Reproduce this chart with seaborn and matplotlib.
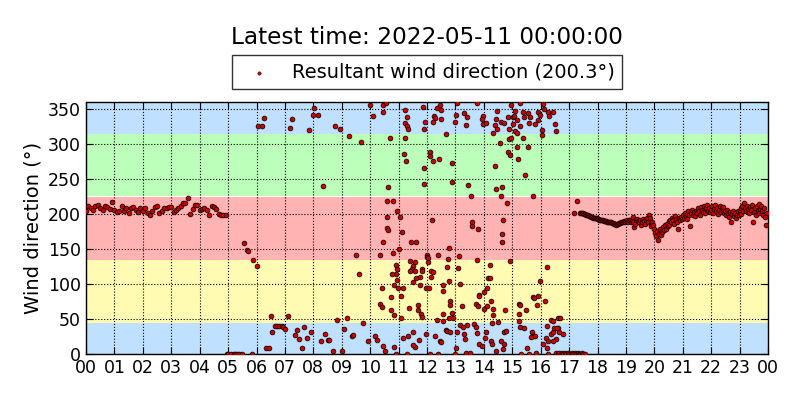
import pandas as pd
import matplotlib.pyplot as plt
import seaborn as sns

# Morning: readings every 5 minutes from 00:00 to 04:55
morning_dir = [
    205, 212, 208, 206, 211, 213, 209, 206, 212, 210, 207, 217,
    206, 203, 205, 212, 204, 209, 201, 208, 210, 206, 203, 209,
    205, 208, 202, 199, 204, 210, 211, 202, 205, 208, 209, 210,
    210, 203, 206, 209, 212, 216, 215, 223, 200, 207, 213, 213,
    206, 207, 209, 206, 198, 212, 210, 207, 200, 199, 199, 199,
]

# Daytime: scattered readings (hour of day, direction)
day_hours = [
    4.95, 5.0, 5.1, 5.2, 5.25, 5.3, 5.4, 5.5, 5.83,
    5.57, 5.66, 5.7, 5.89, 6.0,
    6.05, 6.18, 6.25, 7.18, 7.24, 7.85, 8.0, 8.03, 8.15, 8.33, 8.76, 8.94,
    9.25, 9.68, 10.0, 10.09, 10.44, 10.46, 10.56,
    6.34, 6.43, 6.51, 6.56, 6.65, 6.72, 6.8, 6.88, 6.93, 7.0, 7.1, 7.35,
    7.42, 7.5, 7.59, 7.66, 7.77, 7.92, 8.27, 8.4, 8.5, 8.55, 8.68, 8.82,
    9.0, 9.08, 9.18, 9.36, 9.4, 9.6, 9.49, 9.75, 9.91, 10.17, 10.25,
    10.34, 10.44, 10.36, 10.4, 10.42, 10.46, 10.52,
    11.23, 11.28, 11.22, 11.31, 11.34, 11.85, 11.93, 11.9, 12.24, 12.28,
    12.22, 12.34, 12.45, 12.49, 12.48, 12.67, 12.98, 13.02, 13.07, 13.3,
    13.42, 13.39, 13.75,
    10.7, 11.22, 11.19, 11.26, 10.64, 11.89, 11.89, 12.1, 12.1, 12.22,
    12.41, 12.87, 12.89, 13.43, 13.55,
    10.58, 10.79, 10.93, 11.05, 10.58, 10.58, 10.63, 11.12, 11.42, 11.6,
    11.03, 10.79, 12.16, 12.01, 12.01, 12.4, 12.76, 13.11, 13.57, 13.57, 13.78,
    10.91, 10.93, 10.9, 10.76, 10.93, 11.4, 11.58, 11.52, 11.46, 11.4,
    11.58, 11.81, 11.81, 11.75, 11.61, 11.52, 12.05, 12.05, 12.14, 12.2,
    12.13, 12.73, 12.69, 13.1, 12.77, 10.85, 10.99, 11.14, 11.07, 10.72,
    10.73, 10.84, 11.07, 11.37, 11.75, 11.96, 12.08, 11.69, 11.69, 11.78,
    11.81, 12.57, 12.57, 12.81, 12.81, 12.55, 12.34, 12.55, 12.76, 12.89,
    12.92, 13.16, 13.22, 13.72, 13.8, 13.82,
    11.14, 11.34, 11.52, 11.58, 11.52, 11.73, 11.28, 10.84, 11.96, 12.28,
    12.45, 12.48, 12.67, 12.71, 12.81, 13.07, 13.16, 13.25, 13.42, 13.3,
    13.34, 13.67, 13.72, 13.76, 13.02, 12.98, 13.39, 13.51, 12.4, 10.9, 12.1,
    13.96, 13.92, 13.98, 14.08, 14.47, 14.43, 14.39, 14.47, 14.33, 14.59,
    14.71, 14.86, 14.9, 14.94, 15.01, 15.06, 15.1, 15.01, 15.1, 15.15,
    15.15, 15.29, 15.37, 15.29, 15.41, 15.39, 15.56, 15.62, 15.6, 15.8,
    15.92, 15.97, 15.92, 16.03, 16.03, 16.09, 16.12, 16.27, 16.3, 16.42,
    16.5, 16.54,
    14.9, 14.94, 14.57, 15.15, 14.86, 14.92, 15.21, 15.56, 14.39, 15.45,
    14.43, 14.63, 14.59, 15.72,
    14.8, 14.66, 14.63, 14.63, 13.77, 14.92, 17.29, 17.17,
    14.22, 14.16, 14.22, 14.12, 14.0, 13.84, 14.0, 14.1, 14.24, 14.31,
    14.31, 14.27, 14.51, 14.74, 15.25, 15.27, 15.25, 15.48, 15.72, 15.76,
    15.92, 15.86, 16.15, 15.97, 16.23, 15.25, 16.35, 16.44, 16.62, 16.68,
    14.08, 14.04, 13.84, 13.92, 14.24, 14.27, 14.43, 14.59, 14.72, 14.71,
    14.78, 14.69, 15.27, 15.41, 15.68, 15.72, 15.8, 15.65, 15.53, 15.83,
    16.07, 16.21, 16.19, 16.27, 16.23, 16.35, 16.44, 16.47, 16.62, 16.66,
    16.54, 16.42, 16.77, 16.57,
    15.3, 15.6, 16.25, 16.55, 16.6, 16.65, 16.7, 16.75, 16.8, 16.85, 16.9,
    16.95, 17.0, 17.05, 17.1, 17.15, 17.2, 17.25, 17.3, 17.35, 17.4, 17.45,
    17.5, 17.55,
    17.4, 17.43, 17.47,
]
day_dir = [
    0, 0, 0.5, 0, 0, 0, 0, 0, 0,
    158, 148, 147, 135, 126,
    326, 326, 337, 323, 335, 320, 341, 351, 342, 240, 325, 321,
    312, 303, 356, 340, 346, 355, 359,
    8, 8, 55, 31, 40, 40, 40, 40, 38, 36, 55, 27,
    34, 21, 8, 38, 23, 32, 18, 29, 20, 20, 4, 48,
    4, 36, 52, 26, 27, 114, 142, 44, 18, 26, 20,
    142, 160, 71, 95, 67, 12, 4,
    349, 338, 330, 325, 321, 353, 332, 321, 340, 337,
    332, 351, 355, 336, 349, 314, 331, 341, 359, 344,
    339, 327, 359,
    309, 309, 285, 275, 238, 266, 243, 288, 283, 276,
    278, 273, 246, 242, 225,
    218, 218, 204, 196, 196, 180, 177, 175, 160, 160,
    150, 144, 191, 142, 138, 142, 151, 140, 189, 183, 179,
    127, 121, 114, 115, 106, 133, 132, 126, 122, 119,
    118, 122, 118, 110, 109, 103, 137, 132, 118, 117,
    110, 136, 125, 123, 104, 98, 94, 95, 83, 82,
    63, 56, 52, 66, 99, 94, 95, 70, 63, 57,
    53, 98, 90, 76, 70, 57, 48, 47, 52, 58,
    52, 100, 69, 71, 69, 84,
    23, 26, 31, 10, 13, 20, 0, 10, 29, 26,
    19, 17, 35, 33, 31, 31, 41, 38, 41, 29,
    22, 43, 38, 30, 8, 0, 1, 1, 0, 0, 0,
    340, 336, 328, 330, 347, 336, 327, 321, 315, 331,
    330, 338, 322, 356, 339, 340, 347, 328, 318, 315,
    334, 359, 346, 326, 338, 308, 344, 338, 330, 328,
    345, 342, 334, 320, 313, 357, 350, 345, 340, 346,
    328, 319,
    307, 309, 301, 296, 288, 284, 279, 295, 269, 255,
    236, 239, 225, 225,
    215, 191, 172, 160, 135, 133, 218, 201,
    127, 109, 109, 95, 89, 83, 65, 69, 76, 65,
    56, 44, 46, 63, 72, 70, 57, 63, 82, 80,
    83, 70, 76, 104, 125, 47, 49, 47, 52, 52,
    31, 23, 15, 12, 19, 14, 4, 19, 15, 32,
    33, 7, 39, 37, 31, 26, 26, 25, 9, 1,
    15, 40, 23, 18, 9, 28, 31, 37, 37, 32,
    22, 19, 29, 37,
    0, 0, 0, 1, 0, 1, 0, 2, 0, 1, 0,
    1, 0, 0, 1, 0, 2, 0, 1, 0, 0, 1,
    0, 0,
    202, 201, 201,
]

# Evening: readings every 2 minutes from 17:30 to 23:58
evening_dir = [
    201, 200, 200, 199, 198, 198, 197, 197, 196, 196, 195, 195, 195, 194, 194,
    193, 193, 192, 192, 191, 191, 191, 190, 190, 190, 189, 189, 189, 188, 188,
    187, 187, 186, 186, 186, 185, 186, 186, 187, 187, 188, 188, 189, 190, 189,
    190, 191, 189, 191, 192, 188, 190, 196, 189, 182, 186, 191, 193, 190, 188,
    191, 185, 188, 193, 190, 186, 192, 195, 189, 199, 194, 187, 183, 188, 184,
    178, 173, 168, 176, 163, 172, 179, 170, 175, 181, 177, 184, 178, 186, 183,
    190, 185, 192, 188, 195, 191, 186, 197, 193, 189, 178, 194, 191, 196, 193,
    199, 195, 202, 197, 193, 200, 204, 198, 183, 201, 206, 199, 203, 197, 205,
    202, 208, 204, 199, 210, 206, 203, 211, 207, 201, 209, 213, 205, 208, 203,
    206, 211, 202, 207, 213, 204, 209, 200, 206, 212, 203, 208, 205, 210, 201,
    204, 199, 206, 201, 196, 203, 189, 200, 205, 197, 202, 194, 199, 204, 198,
    203, 208, 200, 211, 205, 215, 209, 204, 212, 207, 202, 210, 206, 213, 189,
    203, 208, 198, 211, 205, 214, 201, 207, 212, 204, 199, 209, 196, 184, 201,
]

tick_labels = [f"{h:02d}" for h in range(24)] + ["00"]
bands = [(0, 45, "#bfe0ff"), (45, 135, "#fffbb3"), (135, 225, "#ffb3b3"),
         (225, 315, "#bbffbb"), (315, 360, "#bfe0ff")]

morning_hours = [i * 5 / 60 for i in range(len(morning_dir))]
evening_hours = [17.5 + i * 2 / 60 for i in range(len(evening_dir))]

df = pd.DataFrame({
    "hour": morning_hours + day_hours + evening_hours,
    "direction": morning_dir + day_dir + evening_dir,
})

fig, ax = plt.subplots(figsize=(8, 4), dpi=100)
fig.subplots_adjust(left=0.1075, right=0.96, bottom=0.115, top=0.745)

for lo, hi, col in bands:
    ax.axhspan(lo, hi, color=col, zorder=0, lw=0)

sns.scatterplot(
    data=df, x="hour", y="direction", ax=ax,
    color="#cc0000", edgecolor="black", linewidth=0.5, s=12,
    label="Resultant wind direction (200.3°)", zorder=3,
)

ax.set_xlim(0, 24)
ax.set_ylim(0, 360)
ax.set_xticks(range(25))
ax.set_xticklabels(tick_labels)
ax.set_yticks(range(0, 360, 50))
ax.tick_params(direction="in", top=True, right=True, labelsize=12.5, length=5)
ax.grid(True, color="black", linestyle=":", linewidth=0.8)
ax.set_xlabel("")
ax.set_ylabel("Wind direction (°)", fontsize=14)
for sp in ax.spines.values():
    sp.set_linewidth(1.0)

leg = ax.legend(loc="lower center", bbox_to_anchor=(0.5, 1.05), fontsize=14,
                frameon=True, fancybox=False, edgecolor="black",
                markerscale=0.7, borderaxespad=0, handletextpad=0.7)
leg.get_frame().set_linewidth(1.0)
for h in leg.legend_handles:
    h.set_linewidth(0.3)

# title centred over the axes, above the legend
ax.text(0.5, 1.255, "Latest time: 2022-05-11 00:00:00", transform=ax.transAxes,
        ha="center", va="center", fontsize=16.7)

plt.savefig("out.png", dpi=100)
